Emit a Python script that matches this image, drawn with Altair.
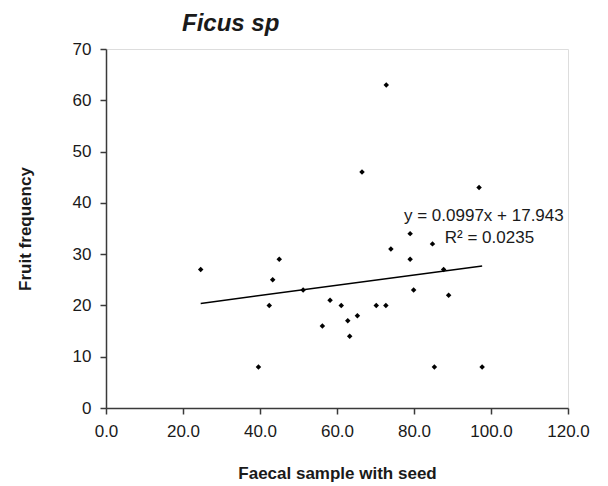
import altair as alt
import pandas as pd

# Data
faecal = [24.6, 39.6, 42.4, 43.3, 45.0, 51.2, 56.2, 58.2, 61.1, 62.8, 63.3, 65.3, 66.5,
          70.2, 72.7, 72.8, 74.0, 79.0, 79.0, 79.9, 84.8, 85.3, 87.7, 89.0, 96.9, 97.7]
fruit = [27, 8, 20, 25, 29, 23, 16, 21, 20, 17, 14, 18, 46,
         20, 20, 63, 31, 34, 29, 23, 32, 8, 27, 22, 43, 8]

slope = 0.0997
intercept = 17.943
eq_lines = ["y = 0.0997x + 17.943", "R\u00b2 = 0.0235"]

x_ticks = [0, 20, 40, 60, 80, 100, 120]
y_ticks = [0, 10, 20, 30, 40, 50, 60, 70]

pts = pd.DataFrame({"x": faecal, "y": fruit})
trend = pd.DataFrame({"x": [min(faecal), max(faecal)]})
trend["y"] = slope * trend["x"] + intercept

FONT = "Liberation Sans"
TXT = "#1a1a1a"
AX = "#3a3a3a"

xscale = alt.Scale(domain=[0, 120], nice=False)
yscale = alt.Scale(domain=[0, 70], nice=False)

xaxis = alt.Axis(values=x_ticks, format=".1f", title="Faecal sample with seed",
                 grid=False, domainColor=AX, domainWidth=1.5, tickColor=AX, tickWidth=1.5,
                 tickSize=6, labelFontSize=17, labelColor=TXT, labelFont=FONT, labelPadding=9,
                 labelFlush=False, labelOverlap=False,
                 titleFont=FONT, titleFontSize=17, titleFontWeight="bold", titleColor=TXT,
                 titleY=70, titleBaseline="alphabetic")
yaxis = alt.Axis(values=y_ticks, format="d", title="Fruit frequency",
                 grid=False, domainColor=AX, domainWidth=1.5, tickColor=AX, tickWidth=1.5,
                 tickSize=6, labelFontSize=17, labelColor=TXT, labelFont=FONT, labelPadding=9,
                 labelFlush=False, labelOverlap=False,
                 titleFont=FONT, titleFontSize=17, titleFontWeight="bold", titleColor=TXT,
                 titleX=-76, titleBaseline="alphabetic")

points = alt.Chart(pts).mark_point(shape="diamond", filled=True, color="black", size=30, opacity=1).encode(
    x=alt.X("x:Q", scale=xscale, axis=xaxis),
    y=alt.Y("y:Q", scale=yscale, axis=yaxis),
)

line = alt.Chart(trend).mark_line(color="black", strokeWidth=1.5).encode(
    x=alt.X("x:Q", scale=xscale),
    y=alt.Y("y:Q", scale=yscale),
)

eq1 = alt.Chart(pd.DataFrame({"t": [eq_lines[0]]})).mark_text(
    align="left", baseline="alphabetic", font=FONT, fontSize=17, color=TXT
).encode(x=alt.X(datum=77.4, scale=xscale), y=alt.Y(datum=36.4, scale=yscale), text="t:N")

eq2 = alt.Chart(pd.DataFrame({"t": [eq_lines[1]]})).mark_text(
    align="left", baseline="alphabetic", font=FONT, fontSize=17, color=TXT
).encode(x=alt.X(datum=88.0, scale=xscale), y=alt.Y(datum=32.2, scale=yscale), text="t:N")

chart = alt.layer(points, line, eq1, eq2).properties(
    width=462, height=359,
    title=alt.TitleParams("Ficus  sp", font=FONT, fontSize=24, fontWeight="bold", fontStyle="italic",
                          color=TXT, anchor="start", frame="group", dx=76, offset=4),
    autosize=alt.AutoSizeParams(type="none"),
    padding={"left": 98, "top": 41, "right": 30, "bottom": 76},
).configure_view(stroke=None).configure(background="white")

chart.save("out.html", embed_options={"renderer": "svg", "actions": False})
